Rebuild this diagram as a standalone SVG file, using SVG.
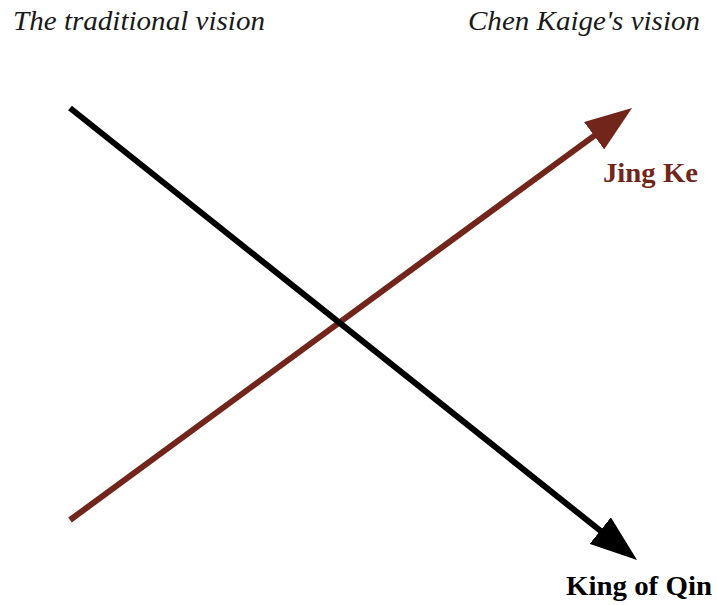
<svg xmlns="http://www.w3.org/2000/svg" width="717" height="605" viewBox="0 0 717 605">
<style>
.cap{font-family:"Liberation Serif","Times New Roman",serif;font-style:italic;font-size:27px;fill:#1a1a1a}
.lbl{font-family:"Liberation Serif","Times New Roman",serif;font-weight:bold;font-size:28px}
.ln{fill:none;stroke-width:6}
</style>
<defs>
<marker id="hb" viewBox="0 0 47 34" markerWidth="47" markerHeight="34" refX="27" refY="17" orient="auto" markerUnits="userSpaceOnUse"><path d="M0,0 L47,17 L0,34 z" fill="#000"/></marker>
<marker id="hr" viewBox="0 0 47 34" markerWidth="47" markerHeight="34" refX="27" refY="17" orient="auto" markerUnits="userSpaceOnUse"><path d="M0,0 L47,17 L0,34 z" fill="#72261b"/></marker>
</defs>
<g id="captions">
<text class="cap" x="13" y="30" textLength="252" lengthAdjust="spacingAndGlyphs">The traditional vision</text>
<text class="cap" x="468" y="30" textLength="232" lengthAdjust="spacingAndGlyphs">Chen Kaige's vision</text>
</g>
<g id="connectors">
<path class="ln" stroke="#72261b" d="M70,520 L615.9,119.8" marker-end="url(#hr)"/>
<path class="ln" stroke="#000" d="M70,108 L621.4,547.5" marker-end="url(#hb)"/>
</g>
<g id="jingke"><text class="lbl" x="603" y="182" textLength="95" lengthAdjust="spacingAndGlyphs" fill="#72261b">Jing Ke</text></g>
<g id="kingofqin"><text class="lbl" x="566" y="595" textLength="146" lengthAdjust="spacingAndGlyphs" fill="#000">King of Qin</text></g>
</svg>
